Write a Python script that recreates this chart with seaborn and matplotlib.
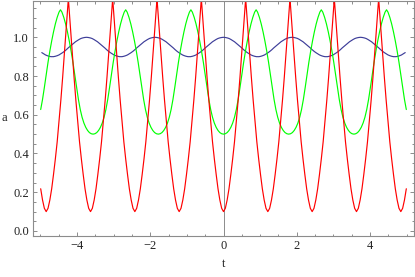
import matplotlib
matplotlib.use("Agg")
import matplotlib.pyplot as plt
from matplotlib.ticker import FixedLocator, MultipleLocator, FormatStrFormatter
import pandas as pd
import seaborn as sns

# ---- data ----
t_range = [-5.0, 5.0]

# red curve: minima (troughs) positions and half-period profile measured from a trough
red_troughs = [-6.05, -4.84, -3.63, -2.42, -1.21, 0.0, 1.21, 2.42, 3.63, 4.84, 6.05]
red_offsets = [0.0, 0.05, 0.10, 0.15, 0.20, 0.25, 0.30, 0.35, 0.40, 0.45, 0.50, 0.55, 0.605]
red_values = [0.100, 0.117, 0.160, 0.218, 0.292, 0.372, 0.460, 0.565, 0.675, 0.795, 0.925, 1.060, 1.200]

# green curve: minima positions and half-period profile measured from a minimum
green_minima = [-5.34, -3.56, -1.78, 0.0, 1.78, 3.56, 5.34]
green_offsets = [0.0, 0.05, 0.10, 0.15, 0.20, 0.25, 0.30, 0.35, 0.40, 0.45,
                 0.50, 0.55, 0.60, 0.65, 0.70, 0.75, 0.80, 0.85, 0.89]
green_values = [0.500, 0.502, 0.508, 0.519, 0.535, 0.557, 0.587, 0.627, 0.679, 0.741,
                0.807, 0.871, 0.929, 0.981, 1.028, 1.069, 1.103, 1.130, 1.142]

# blue curve: maxima positions and half-period profile measured from a maximum
blue_maxima = [-5.61, -3.74, -1.87, 0.0, 1.87, 3.74, 5.61]
blue_offsets = [0.0, 0.05, 0.10, 0.15, 0.20, 0.25, 0.30, 0.35, 0.40, 0.45,
                0.50, 0.55, 0.60, 0.65, 0.70, 0.75, 0.80, 0.85, 0.90, 0.935]
blue_values = [1.000, 0.999, 0.997, 0.994, 0.989, 0.983, 0.977, 0.969, 0.961, 0.953,
               0.945, 0.936, 0.928, 0.921, 0.915, 0.909, 0.905, 0.902, 0.900, 0.900]

x_major = [-4, -2, 0, 2, 4]
y_major = [0.0, 0.2, 0.4, 0.6, 0.8, 1.0]
x_label = "t"
y_label = "a"


def build(centers, offsets, values):
    pts = {}
    for c in centers:
        for o, v in zip(offsets, values):
            for s in (-1, 1):
                t = round(c + s * o, 4)
                if t_range[0] - 1e-9 <= t <= t_range[1] + 1e-9:
                    pts[t] = v
    ts = sorted(pts)
    return pd.DataFrame({"t": ts, "a": [pts[t] for t in ts]})


red_df = build(red_troughs, red_offsets, red_values)
green_df = build(green_minima, green_offsets, green_values)
blue_df = build(blue_maxima, blue_offsets, blue_values)

# ---- styling ----
sns.set_style("ticks")
plt.rcParams["font.family"] = ["Liberation Serif", "DejaVu Serif"]
plt.rcParams["axes.unicode_minus"] = True

W, H = 415, 277
fig = plt.figure(figsize=(W / 100, H / 100), dpi=100)
ax_left, ax_right, ax_top, ax_bottom = 33, 414, 0.5, 236
ax = fig.add_axes([ax_left / W, (H - ax_bottom) / H,
                   (ax_right - ax_left) / W, (ax_bottom - ax_top) / H])

frame_col = "#8c8c8c"
ax.axvline(0, color="#8c8c8c", lw=0.7, zorder=0.5)

sns.lineplot(data=blue_df, x="t", y="a", color=(0.24, 0.24, 0.6), lw=0.85,
             estimator=None, sort=True, ax=ax)
sns.lineplot(data=green_df, x="t", y="a", color=(0.0, 1.0, 0.0), lw=0.85,
             estimator=None, sort=True, ax=ax)
sns.lineplot(data=red_df, x="t", y="a", color=(1.0, 0.0, 0.0), lw=0.85,
             estimator=None, sort=True, ax=ax)

ax.set_xlim(-5.2, 5.2)
ax.set_ylim(-0.026, 1.19)

ax.xaxis.set_major_locator(FixedLocator(x_major))
ax.xaxis.set_minor_locator(MultipleLocator(0.5))
ax.yaxis.set_major_locator(FixedLocator(y_major))
ax.yaxis.set_minor_locator(MultipleLocator(0.05))
ax.yaxis.set_major_formatter(FormatStrFormatter("%.1f"))

for sp in ax.spines.values():
    sp.set_visible(True)
    sp.set_color(frame_col)
    sp.set_linewidth(0.8)

ax.tick_params(which="both", direction="in", top=True, right=True,
               color=frame_col, width=0.7, labelsize=9, labelcolor="#222222")
ax.tick_params(which="major", length=3.2, pad=3)
ax.tick_params(which="minor", length=1.8)

ax.set_xlabel(x_label, fontsize=9, color="#222222")
ax.set_ylabel(y_label, fontsize=9, color="#222222", rotation=0, ha="center", va="center")
ax.xaxis.set_label_coords(0.5, -0.095)
ax.yaxis.set_label_coords((4 - ax_left) / (ax_right - ax_left), 0.5)

fig.savefig("out.png", dpi=100)
